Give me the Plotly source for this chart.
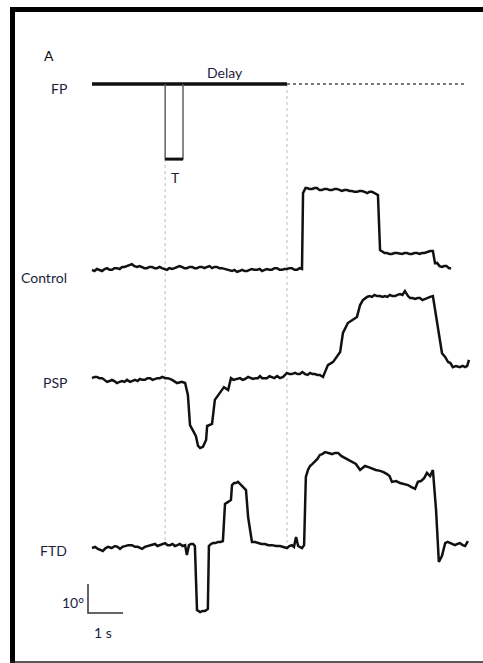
import plotly.graph_objects as go

# ---- eye-position traces (time in s, horizontal eye position in degrees) ----
control_t = [0.00, 0.07, 0.14, 0.21, 0.29, 0.36, 0.43, 0.50, 0.57, 0.64, 0.71, 0.79, 0.86, 0.93,
             1.00, 1.07, 1.14, 1.21, 1.29, 1.36, 1.43, 1.50, 1.57, 1.64, 1.71, 1.79, 1.86, 1.93,
             2.00, 2.07, 2.14, 2.21, 2.29, 2.36, 2.43, 2.50, 2.57, 2.64, 2.71, 2.79, 2.86, 2.93,
             3.00, 3.07, 3.14, 3.21, 3.29, 3.36, 3.43, 3.50, 3.57, 3.64, 3.71, 3.79, 3.86, 3.93,
             4.00, 4.07, 4.14, 4.21, 4.29, 4.36, 4.43, 4.50, 4.57, 4.64, 4.71, 4.79, 4.86, 4.93,
             5.00, 5.07, 5.14, 5.21, 5.29, 5.36, 5.43, 5.50, 5.57, 5.64, 5.71, 5.79, 5.86, 5.93,
             6.00, 6.03, 6.06, 6.10, 6.14, 6.21, 6.29, 6.36, 6.43, 6.50, 6.57, 6.64, 6.71, 6.79,
             6.86, 6.93, 7.00, 7.07, 7.14, 7.21, 7.29, 7.36, 7.43, 7.50, 7.57, 7.64, 7.71, 7.79,
             7.86, 7.93, 8.00, 8.07, 8.14, 8.17, 8.23, 8.29, 8.36, 8.43, 8.50, 8.57, 8.64, 8.71,
             8.79, 8.86, 8.93, 9.00, 9.07, 9.14, 9.21, 9.29, 9.36, 9.43, 9.50, 9.57, 9.66, 9.74,
             9.80, 9.86, 9.93, 10.00, 10.06, 10.13, 10.20, 10.26]
control_deg = [-0.3, -0.7, 0.0, -0.3, -0.7, 0.0, 0.3, -0.3, -0.3, 0.3, 0.3, 0.0, 0.7, 0.7,
               1.0, 1.4, 1.7, 1.0, 0.7, 1.0, 0.7, 0.3, 0.3, 0.7, 0.7, 0.3, 0.3, 0.7,
               0.3, 0.0, -0.3, 0.3, 0.0, 0.3, 0.7, 1.0, 0.7, 0.3, 0.3, 0.7, 0.7, 0.3,
               0.3, 0.7, 0.7, 0.3, 0.7, 1.0, 0.3, 0.7, 0.7, 0.3, 0.3, 0.0, 0.0, -0.3,
               -0.7, -0.3, -1.0, -0.7, -0.3, -0.7, -0.7, -0.3, 0.0, -0.3, -0.3, 0.0, -0.7, -0.3,
               0.0, -0.3, -0.3, 0.3, 0.3, -0.3, -0.3, 0.0, 0.0, 0.3, 0.3, -0.3, -0.3, 0.3,
               0.0, 26.2, 27.2, 27.9, 27.9, 27.6, 27.6, 27.9, 27.9, 27.2, 27.2, 27.6, 27.6, 27.2,
               27.2, 27.6, 27.6, 27.2, 26.9, 27.2, 27.2, 26.9, 26.9, 26.6, 26.6, 26.9, 26.9, 26.6,
               26.2, 26.6, 26.6, 26.2, 25.9, 25.5, 6.5, 5.9, 5.5, 5.5, 5.2, 5.2, 5.5, 5.5,
               5.2, 5.2, 5.5, 5.5, 5.2, 5.2, 5.5, 5.5, 5.2, 5.5, 5.5, 5.9, 6.2, 6.2,
               2.0, 2.1, 1.0, 0.7, 1.0, 1.0, 0.3, 0.3]

psp_t = [0.00, 0.07, 0.14, 0.21, 0.29, 0.36, 0.43, 0.50, 0.57, 0.64, 0.71, 0.79, 0.86, 0.93,
         1.00, 1.09, 1.16, 1.23, 1.30, 1.37, 1.44, 1.51, 1.59, 1.66, 1.73, 1.80, 1.87, 1.94,
         2.01, 2.09, 2.17, 2.29, 2.43, 2.57, 2.66, 2.74, 2.80, 2.89, 2.97, 3.03, 3.09, 3.17,
         3.26, 3.29, 3.43, 3.51, 3.58, 3.66, 3.77, 3.89, 3.97, 4.04, 4.11, 4.17, 4.23, 4.30,
         4.37, 4.46, 4.53, 4.60, 4.67, 4.74, 4.80, 4.86, 4.93, 5.00, 5.07, 5.14, 5.21, 5.29,
         5.37, 5.46, 5.57, 5.64, 5.71, 5.80, 5.87, 5.94, 6.01, 6.09, 6.16, 6.23, 6.30, 6.37,
         6.44, 6.51, 6.60, 6.74, 6.89, 7.09, 7.17, 7.31, 7.44, 7.57, 7.66, 7.74, 7.86, 7.93,
         8.00, 8.07, 8.14, 8.23, 8.30, 8.37, 8.44, 8.51, 8.58, 8.66, 8.73, 8.80, 8.87, 8.94,
         9.03, 9.09, 9.16, 9.23, 9.30, 9.37, 9.44, 9.51, 9.58, 9.66, 9.74, 9.86, 10.00, 10.09,
         10.17, 10.24, 10.31, 10.40, 10.51, 10.59, 10.66, 10.72, 10.77]
psp_deg = [0.3, 0.7, 0.7, 0.3, 0.3, -0.3, -1.0, -0.7, -0.3, -0.7, -1.4, -1.0, -0.7, -1.0,
           -0.3, -1.0, -0.7, -0.3, -0.7, 0.0, -0.3, -0.3, 0.3, 0.3, -0.3, 0.0, 0.3, 0.3,
           0.7, 0.3, 0.3, -0.3, -1.4, -1.0, -1.4, -5.5, -15.9, -17.9, -19.7, -23.1, -23.8, -23.4,
           -21.0, -16.2, -15.5, -7.2, -5.9, -4.5, -2.8, -3.8, 0.3, -0.3, 0.0, 0.3, 0.3, -0.3,
           0.0, 0.7, 0.3, 0.0, 0.3, 0.3, 1.0, 0.3, 0.3, 0.3, 1.0, 0.7, 0.3, 1.0,
           0.3, 0.7, 2.1, 1.7, 1.7, 2.1, 1.7, 1.7, 2.4, 1.7, 1.4, 2.1, 1.7, 1.7,
           1.4, 1.4, 0.7, 4.8, 5.9, 9.3, 15.9, 19.3, 20.3, 21.4, 25.5, 27.2, 28.3, 28.6,
           28.3, 29.0, 28.6, 28.6, 28.3, 28.6, 28.3, 29.0, 28.6, 28.6, 29.0, 29.3, 29.0, 30.3,
           28.6, 27.9, 27.9, 27.6, 27.9, 27.9, 27.2, 27.6, 27.9, 28.3, 28.6, 19.3, 8.9, 7.6,
           5.9, 5.5, 4.1, 4.5, 4.1, 4.5, 4.1, 4.5, 6.6]

ftd_t = [0.00, 0.09, 0.17, 0.24, 0.31, 0.39, 0.46, 0.56, 0.66, 0.73, 0.80, 0.87, 0.94, 1.04,
         1.14, 1.23, 1.31, 1.37, 1.43, 1.51, 1.60, 1.70, 1.80, 1.87, 1.94, 2.01, 2.09, 2.16,
         2.23, 2.30, 2.37, 2.44, 2.51, 2.59, 2.66, 2.71, 2.77, 2.83, 2.89, 2.94, 3.00, 3.09,
         3.16, 3.23, 3.31, 3.34, 3.40, 3.46, 3.53, 3.60, 3.67, 3.74, 3.80, 3.89, 3.97, 4.00,
         4.06, 4.11, 4.17, 4.23, 4.31, 4.40, 4.46, 4.57, 4.66, 4.74, 4.84, 4.94, 5.04, 5.14,
         5.26, 5.37, 5.47, 5.57, 5.64, 5.71, 5.77, 5.83, 5.89, 6.00, 6.06, 6.11, 6.17, 6.23,
         6.30, 6.37, 6.44, 6.51, 6.58, 6.66, 6.73, 6.80, 6.86, 6.94, 7.03, 7.13, 7.23, 7.33,
         7.43, 7.54, 7.66, 7.73, 7.80, 7.90, 8.00, 8.11, 8.23, 8.33, 8.43, 8.50, 8.57, 8.69,
         8.80, 8.91, 9.03, 9.13, 9.23, 9.31, 9.40, 9.49, 9.57, 9.66, 9.74, 9.83, 9.91, 10.00,
         10.09, 10.16, 10.23, 10.30, 10.37, 10.44, 10.51, 10.59, 10.66, 10.74]
ftd_deg = [-0.7, -0.3, -1.0, -1.4, -1.7, -0.7, -0.3, -0.7, 0.0, -0.3, -1.0, -0.3, 0.0, 0.3,
           0.3, -0.3, -0.3, -0.7, -1.0, -0.3, 0.0, 0.3, 0.7, 0.0, 0.3, 0.7, 1.0, 0.3,
           0.3, 0.7, 0.0, 0.3, 0.7, 0.0, 0.3, -3.1, 0.3, 0.7, 0.7, 0.0, -22.1, -22.8,
           -22.4, -22.4, -21.7, 0.0, 0.7, 1.0, 1.0, 1.4, 1.4, 1.7, 14.5, 15.2, 15.9, 21.0,
           21.7, 21.7, 22.1, 21.4, 20.3, 19.3, 10.0, 1.4, 1.4, 1.0, 0.7, 0.7, 0.3, 0.3,
           0.0, 0.0, -0.3, -0.7, 0.0, 0.3, -0.3, 3.1, 0.0, -0.7, 0.3, 23.8, 26.2, 27.6,
           28.3, 29.0, 30.0, 31.4, 31.7, 32.4, 32.1, 31.7, 31.7, 32.1, 32.1, 31.0, 30.3, 29.7,
           29.0, 28.3, 26.2, 26.9, 27.6, 27.2, 26.6, 26.2, 25.9, 25.5, 24.8, 24.1, 22.1, 22.4,
           21.7, 21.4, 21.0, 20.3, 19.7, 22.1, 22.4, 23.4, 25.2, 24.1, 26.2, 12.4, -5.5, -3.4,
           1.0, 1.4, 1.0, 0.7, 0.3, 0.7, 1.0, 0.3, 0.0, 1.7]

# ---- task events (s) ----
fp_on, target_on, target_off, fp_off, record_end = 0.0, 2.09, 2.60, 5.57, 10.71
target_step = 25.9          # target displacement drawn below the FP line (deg)

trace_names = ["Control", "PSP", "FTD"]

# ---- layout geometry ----
W, H = 483, 663
PX_PER_S, PX_PER_DEG = 35.0, 2.9
T0_PX = 92                                  # pixel column of t = 0
X_RANGE = [-T0_PX / PX_PER_S, (W - T0_PX) / PX_PER_S]
Y_RANGE = [0, H / PX_PER_DEG]
OFFSETS = {"Control": (H - 269) / PX_PER_DEG,
           "PSP": (H - 379) / PX_PER_DEG,
           "FTD": (H - 546) / PX_PER_DEG}
FP_LEVEL = (H - 84) / PX_PER_DEG
GUIDE_BOTTOM = (H - 546) / PX_PER_DEG

INK = "#111111"
LABEL = "#1d1d3d"
FONT = "Lato"

fig = go.Figure()

series = {"Control": (control_t, control_deg),
          "PSP": (psp_t, psp_deg),
          "FTD": (ftd_t, ftd_deg)}

# vertical guides at target onset and end of delay
for tx, top in ((target_on, FP_LEVEL - target_step), (fp_off, FP_LEVEL)):
    fig.add_trace(go.Scatter(x=[tx, tx], y=[top, GUIDE_BOTTOM], mode="lines",
                             line=dict(color="#bdbdbd", width=1, dash="dot"),
                             hoverinfo="skip", showlegend=False))

# eye traces
for name in trace_names:
    t, d = series[name]
    fig.add_trace(go.Scatter(x=t, y=[v + OFFSETS[name] for v in d], mode="lines",
                             line=dict(color=INK, width=2.5, shape="linear"),
                             name=name, showlegend=False))

# fixation point (solid while on, dotted afterwards)
fig.add_trace(go.Scatter(x=[fp_on, fp_off], y=[FP_LEVEL, FP_LEVEL], mode="lines",
                         line=dict(color=INK, width=3.5), showlegend=False, hoverinfo="skip"))
fig.add_trace(go.Scatter(x=[fp_off, record_end], y=[FP_LEVEL, FP_LEVEL], mode="lines",
                         line=dict(color="#777777", width=2, dash="dot"),
                         showlegend=False, hoverinfo="skip"))

# target flash
tb = FP_LEVEL - target_step
fig.add_trace(go.Scatter(x=[target_on, target_on, target_off, target_off],
                         y=[FP_LEVEL, tb, tb, FP_LEVEL], mode="lines",
                         line=dict(color="#555555", width=1.4),
                         showlegend=False, hoverinfo="skip"))
fig.add_trace(go.Scatter(x=[target_on, target_off], y=[tb, tb], mode="lines",
                         line=dict(color=INK, width=3), showlegend=False, hoverinfo="skip"))

# scale bar: 10 deg by 1 s
sb_x = (88 - T0_PX) / PX_PER_S
sb_y = (H - 613) / PX_PER_DEG
fig.add_trace(go.Scatter(x=[sb_x, sb_x, sb_x + 1.0], y=[sb_y + 10, sb_y, sb_y], mode="lines",
                         line=dict(color="#333333", width=1.5),
                         showlegend=False, hoverinfo="skip"))


def px(x):
    return x / W


def py(y):
    return 1 - y / H


def label(text, x, y, xanchor="center", size=14, color=LABEL):
    fig.add_annotation(x=px(x), y=py(y), xref="paper", yref="paper", text=text,
                       showarrow=False, xanchor=xanchor, yanchor="middle",
                       font=dict(family=FONT, size=size, color=color))


label("A", 49, 55, color="#111111")
label("FP", 69, 89, xanchor="right")
label("Delay", 225, 72)
label("T", 175, 178)
label("Control", 69, 277, xanchor="right")
label("PSP", 69, 383, xanchor="right")
label("FTD", 69, 550, xanchor="right")
label("10°", 86, 602, xanchor="right")
label("1 s", 103, 632)

# frame: heavy left and top rules, thin bottom rule
fig.add_shape(type="line", xref="paper", yref="paper", x0=px(12.5), x1=px(12.5),
              y0=py(7), y1=py(H), line=dict(color="black", width=5))
fig.add_shape(type="line", xref="paper", yref="paper", x0=px(10), x1=px(W),
              y0=py(9.5), y1=py(9.5), line=dict(color="black", width=5))
fig.add_shape(type="line", xref="paper", yref="paper", x0=px(10), x1=px(W),
              y0=py(662), y1=py(662), line=dict(color="#222222", width=1.5))

fig.update_layout(
    width=W, height=H, margin=dict(l=0, r=0, t=0, b=0),
    paper_bgcolor="white", plot_bgcolor="white",
    xaxis=dict(range=X_RANGE, visible=False, fixedrange=True),
    yaxis=dict(range=Y_RANGE, visible=False, fixedrange=True),
    showlegend=False,
)

fig.write_html("out.html")
